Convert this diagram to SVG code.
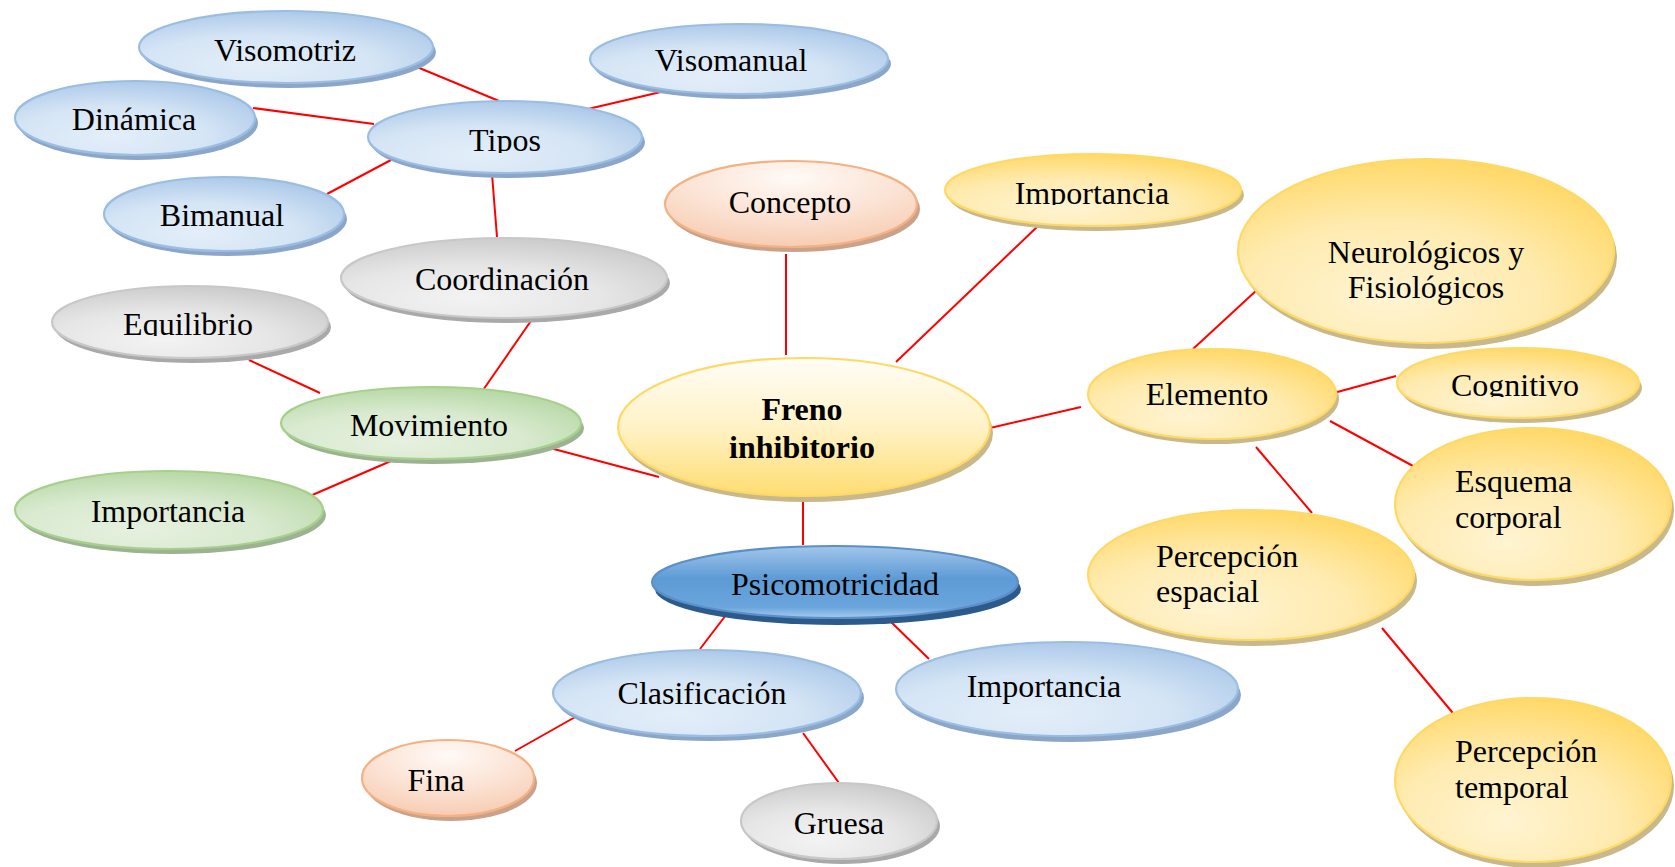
<svg xmlns="http://www.w3.org/2000/svg" width="1675" height="867" viewBox="0 0 1675 867">
<style>
text{font-family:"Liberation Serif","Times New Roman",serif;font-size:32px;fill:#000;text-anchor:middle}
text.l{text-anchor:start}
text.b{font-weight:bold}
.sh{stroke:none}
.bd{stroke-width:2.2}
.blue .bd{fill:url(#gBlue);stroke:#9bbde4}
.blue .sh{fill:#8ba6c6}
.gray .bd{fill:url(#gGray);stroke:#c8c8c8}
.gray .sh{fill:#a9a9a9}
.green .bd{fill:url(#gGreen);stroke:#a8d08d}
.green .sh{fill:#9db292}
.orange .bd{fill:url(#gOrange);stroke:#f4b183}
.orange .sh{fill:#c9a28c}
.yellow .bd{fill:url(#gYellow);stroke:#ffd966}
.yellow .sh{fill:#c8b88a}
.yellowv .bd{fill:url(#gYellowV);stroke:#ffd966}
.yellowv .sh{fill:#c8b88a}
.dark .bd{fill:url(#gDark);stroke:#5b8fc9}
.dark .sh{fill:#2c5a8a}
#connectors line{stroke:#ff0000;stroke-width:2}
</style>
<defs>
<radialGradient id="gBlue" cx="0.4" cy="0.75" r="0.8">
<stop offset="0" stop-color="#e3eef9"/><stop offset="0.5" stop-color="#d5e5f5"/><stop offset="1" stop-color="#a8c6e8"/>
</radialGradient>
<radialGradient id="gGray" cx="0.4" cy="0.75" r="0.8">
<stop offset="0" stop-color="#f3f3f3"/><stop offset="0.5" stop-color="#e6e6e6"/><stop offset="1" stop-color="#c9c9c9"/>
</radialGradient>
<radialGradient id="gGreen" cx="0.4" cy="0.75" r="0.8">
<stop offset="0" stop-color="#e6f1df"/><stop offset="0.5" stop-color="#d9ead0"/><stop offset="1" stop-color="#b3d6a0"/>
</radialGradient>
<radialGradient id="gOrange" cx="0.5" cy="0.2" r="0.9">
<stop offset="0" stop-color="#fffaf6"/><stop offset="0.5" stop-color="#fbe2d3"/><stop offset="1" stop-color="#f6c6a9"/>
</radialGradient>
<radialGradient id="gYellow" cx="0.4" cy="0.75" r="0.8">
<stop offset="0" stop-color="#fff4d2"/><stop offset="0.5" stop-color="#ffebb0"/><stop offset="1" stop-color="#ffd65f"/>
</radialGradient>
<linearGradient id="gYellowV" x1="0" y1="0" x2="0" y2="1">
<stop offset="0" stop-color="#fffdf7"/><stop offset="0.5" stop-color="#fff2c6"/><stop offset="1" stop-color="#ffdd72"/>
</linearGradient>
<linearGradient id="gDark" x1="0" y1="0" x2="0" y2="1">
<stop offset="0" stop-color="#a2c6ea"/><stop offset="0.45" stop-color="#5d9bd6"/><stop offset="0.85" stop-color="#6aa5dc"/><stop offset="1" stop-color="#a8cbee"/>
</linearGradient>
<clipPath id="cTipos"><rect x="350" y="100" width="300" height="53"/></clipPath>
<clipPath id="cEquil"><rect x="40" y="280" width="300" height="56"/></clipPath>
<clipPath id="cCogn"><rect x="1390" y="340" width="260" height="57"/></clipPath>
<clipPath id="cImpTop"><rect x="940" y="150" width="320" height="55"/></clipPath>
</defs>

<g id="connectors">
<line x1="417" y1="67" x2="499" y2="101"/>
<line x1="665" y1="91" x2="588" y2="109"/>
<line x1="253" y1="108" x2="374" y2="124"/>
<line x1="327" y1="194" x2="391" y2="160"/>
<line x1="492" y1="174" x2="497" y2="237"/>
<line x1="533" y1="318" x2="481" y2="393"/>
<line x1="249" y1="360" x2="320" y2="393"/>
<line x1="391" y1="461" x2="310" y2="496"/>
<line x1="550" y1="448" x2="659" y2="477"/>
<line x1="786" y1="254" x2="786" y2="355"/>
<line x1="1038" y1="226" x2="896" y2="362"/>
<line x1="990" y1="428" x2="1081" y2="407"/>
<line x1="1193" y1="349" x2="1258" y2="289"/>
<line x1="1330" y1="394" x2="1396" y2="376"/>
<line x1="1330" y1="421" x2="1413" y2="466"/>
<line x1="1256" y1="447" x2="1312" y2="513"/>
<line x1="1382" y1="628" x2="1457" y2="718"/>
<line x1="803" y1="497" x2="803" y2="545"/>
<line x1="726" y1="615" x2="700" y2="649"/>
<line x1="889" y1="620" x2="929" y2="659"/>
<line x1="577" y1="716" x2="515" y2="751"/>
<line x1="803" y1="733" x2="839" y2="783"/>
</g>

<g id="n-visomotriz" class="blue"><ellipse class="sh" cx="289" cy="52" rx="147" ry="36"/><ellipse class="bd" cx="286" cy="47" rx="147" ry="36"/><text x="285" y="61">Visomotriz</text></g>
<g id="n-visomanual" class="blue"><ellipse class="sh" cx="742" cy="64" rx="149" ry="35"/><ellipse class="bd" cx="739" cy="59" rx="149" ry="35"/><text x="731" y="71">Visomanual</text></g>
<g id="n-dinamica" class="blue"><ellipse class="sh" cx="138" cy="123" rx="120" ry="37"/><ellipse class="bd" cx="135" cy="118" rx="120" ry="37"/><text x="134" y="130">Dinámica</text></g>
<g id="n-tipos" class="blue"><ellipse class="sh" cx="508" cy="142" rx="137" ry="36"/><ellipse class="bd" cx="505" cy="137" rx="137" ry="36"/><text x="505" y="151" clip-path="url(#cTipos)">Tipos</text></g>
<g id="n-bimanual" class="blue"><ellipse class="sh" cx="227" cy="219" rx="120" ry="37"/><ellipse class="bd" cx="224" cy="214" rx="120" ry="37"/><text x="222" y="226">Bimanual</text></g>
<g id="n-concepto" class="orange"><ellipse class="sh" cx="794" cy="209" rx="126" ry="43"/><ellipse class="bd" cx="791" cy="204" rx="126" ry="43"/><text x="790" y="213">Concepto</text></g>
<g id="n-importancia-top" class="yellow"><ellipse class="sh" cx="1096" cy="195" rx="148" ry="36"/><ellipse class="bd" cx="1093" cy="190" rx="148" ry="36"/><text x="1092" y="204" clip-path="url(#cImpTop)">Importancia</text></g>
<g id="n-neuro" class="yellow"><ellipse class="sh" cx="1429" cy="257" rx="188" ry="92"/><ellipse class="bd" cx="1426" cy="251" rx="188" ry="92"/><text x="1426" y="263">Neurológicos y</text><text x="1426" y="298">Fisiológicos</text></g>
<g id="n-coordinacion" class="gray"><ellipse class="sh" cx="507" cy="283" rx="163" ry="40"/><ellipse class="bd" cx="504" cy="278" rx="163" ry="40"/><text x="502" y="290">Coordinación</text></g>
<g id="n-equilibrio" class="gray"><ellipse class="sh" cx="193" cy="327" rx="138" ry="36"/><ellipse class="bd" cx="190" cy="322" rx="138" ry="36"/><text x="188" y="335" clip-path="url(#cEquil)">Equilibrio</text></g>
<g id="n-movimiento" class="green"><ellipse class="sh" cx="434" cy="428" rx="150" ry="36"/><ellipse class="bd" cx="431" cy="423" rx="150" ry="36"/><text x="429" y="436">Movimiento</text></g>
<g id="n-freno" class="yellowv"><ellipse class="sh" cx="807" cy="433" rx="186" ry="69"/><ellipse class="bd" cx="804" cy="427" rx="186" ry="69"/><text class="b" x="802" y="420">Freno</text><text class="b" x="802" y="458">inhibitorio</text></g>
<g id="n-elemento" class="yellow"><ellipse class="sh" cx="1215" cy="399" rx="124" ry="45"/><ellipse class="bd" cx="1212" cy="394" rx="124" ry="45"/><text x="1207" y="405">Elemento</text></g>
<g id="n-cognitivo" class="yellow"><ellipse class="sh" cx="1521" cy="388" rx="121" ry="35"/><ellipse class="bd" cx="1518" cy="383" rx="121" ry="35"/><text x="1515" y="396" clip-path="url(#cCogn)">Cognitivo</text></g>
<g id="n-esquema" class="yellow"><ellipse class="sh" cx="1536" cy="510" rx="138" ry="76"/><ellipse class="bd" cx="1533" cy="504" rx="138" ry="76"/><text class="l" x="1455" y="492">Esquema</text><text class="l" x="1455" y="528">corporal</text></g>
<g id="n-importancia-mov" class="green"><ellipse class="sh" cx="172" cy="515" rx="154" ry="39"/><ellipse class="bd" cx="169" cy="510" rx="154" ry="39"/><text x="168" y="522">Importancia</text></g>
<g id="n-percepcion-espacial" class="yellow"><ellipse class="sh" cx="1254" cy="581" rx="163" ry="65"/><ellipse class="bd" cx="1251" cy="575" rx="163" ry="65"/><text class="l" x="1156" y="567">Percepción</text><text class="l" x="1156" y="602">espacial</text></g>
<g id="n-psicomotricidad" class="dark"><ellipse class="sh" cx="838" cy="589" rx="183" ry="36"/><ellipse class="bd" cx="835" cy="582" rx="183" ry="36"/><text x="835" y="595">Psicomotricidad</text></g>
<g id="n-clasificacion" class="blue"><ellipse class="sh" cx="710" cy="698" rx="154" ry="43"/><ellipse class="bd" cx="707" cy="693" rx="154" ry="43"/><text x="702" y="704">Clasificación</text></g>
<g id="n-importancia-psico" class="blue"><ellipse class="sh" cx="1070" cy="695" rx="171" ry="47"/><ellipse class="bd" cx="1067" cy="689" rx="171" ry="47"/><text x="1044" y="697">Importancia</text></g>
<g id="n-fina" class="orange"><ellipse class="sh" cx="451" cy="783" rx="86" ry="38"/><ellipse class="bd" cx="448" cy="778" rx="86" ry="38"/><text x="436" y="791">Fina</text></g>
<g id="n-gruesa" class="gray"><ellipse class="sh" cx="842" cy="826" rx="98" ry="38"/><ellipse class="bd" cx="839" cy="821" rx="98" ry="38"/><text x="839" y="834">Gruesa</text></g>
<g id="n-percepcion-temporal" class="yellow"><ellipse class="sh" cx="1536" cy="786" rx="138" ry="82"/><ellipse class="bd" cx="1533" cy="780" rx="138" ry="82"/><text class="l" x="1455" y="762">Percepción</text><text class="l" x="1455" y="798">temporal</text></g>
</svg>
